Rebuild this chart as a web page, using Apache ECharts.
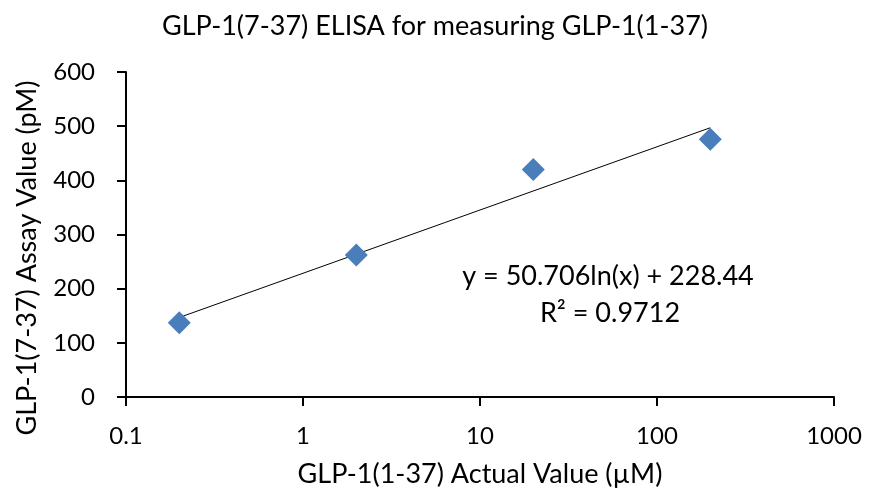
<!DOCTYPE html>
<html><head><meta charset="utf-8">
<script src="https://cdn.jsdelivr.net/npm/echarts@6/dist/echarts.min.js"></script>
<style>html,body{margin:0;padding:0;background:#fff}#c{width:870px;height:499px}</style>
</head><body><div id="c"></div>
<script>
const actualX = [0.2, 2, 20, 200];
const assayY = [137, 262, 420, 476];
const trendX = [0.2, 200];
const trendY = [146.8, 497.1];
const xTicks = [0.1, 1, 10, 100, 1000];
const yTicks = [0, 100, 200, 300, 400, 500, 600];
const titleText = 'GLP-1(7-37) ELISA for measuring GLP-1(1-37)';
const xName = 'GLP-1(1-37) Actual Value (µM)';
const yName = 'GLP-1(7-37) Assay Value (pM)';
const eqText = 'y = 50.706ln(x) + 228.44';
const r2Text = 'R² = 0.9712';
const F = 'Lato, "Open Sans", sans-serif';

const chart = echarts.init(document.getElementById('c'));
chart.setOption({
  animation: false,
  backgroundColor: '#fff',
  title: { text: titleText, left: 'center', top: 8,
    textStyle: { fontFamily: F, fontSize: 27, fontWeight: 'normal', color: '#000' } },
  grid: { left: 126, right: 36, top: 72, bottom: 102 },
  xAxis: {
    type: 'log', logBase: 10, min: xTicks[0], max: xTicks[xTicks.length - 1],
    name: xName, nameLocation: 'middle', nameGap: 64,
    nameTextStyle: { fontFamily: F, fontSize: 27, color: '#000' },
    axisLine: { lineStyle: { color: '#000', width: 2 } },
    axisTick: { show: true, length: 9, lineStyle: { color: '#000', width: 2 } },
    minorTick: { show: false },
    splitLine: { show: false },
    axisLabel: { fontFamily: F, fontSize: 24, color: '#000', margin: 27,
      formatter: v => String(+v.toPrecision(6)) }
  },
  yAxis: {
    type: 'value', min: yTicks[0], max: yTicks[yTicks.length - 1], interval: 100,
    axisLine: { show: true, lineStyle: { color: '#000', width: 2 } },
    axisTick: { show: true, length: 9, lineStyle: { color: '#000', width: 2 } },
    splitLine: { show: false },
    axisLabel: { fontFamily: F, fontSize: 24, color: '#000', margin: 31 }
  },
  series: [
    { type: 'line', data: trendX.map((x, i) => [x, trendY[i]]), symbol: 'none',
      lineStyle: { color: '#000', width: 1 }, z: 2 },
    { type: 'scatter', data: actualX.map((x, i) => [x, assayY[i]]), symbol: 'diamond',
      symbolSize: 23, itemStyle: { color: '#4A7EBB', opacity: 1 }, z: 3 }
  ],
  graphic: [
    { type: 'text', x: 27, y: 258, rotation: Math.PI / 2,
      style: { text: yName, fontFamily: F, fontSize: 27, fill: '#000', align: 'center', verticalAlign: 'middle' } },
    { type: 'text', x: 608, y: 276, style: { text: eqText, fontFamily: F, fontSize: 27, fill: '#000', align: 'center', verticalAlign: 'middle' } },
    { type: 'text', x: 610, y: 313, style: { text: r2Text, fontFamily: F, fontSize: 27, fill: '#000', align: 'center', verticalAlign: 'middle' } }
  ]
});
</script></body></html>
